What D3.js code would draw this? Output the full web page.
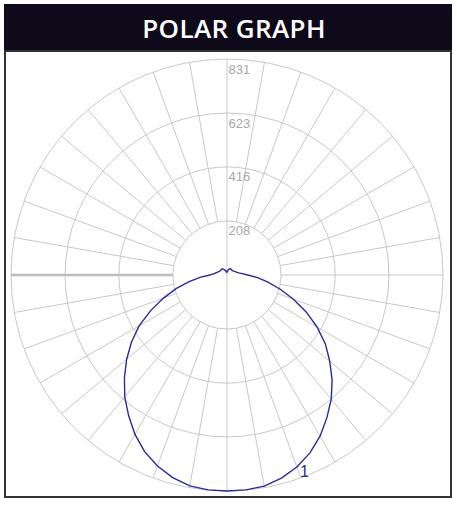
<!DOCTYPE html>
<html>
<head>
<meta charset="utf-8">
<script src="https://cdn.jsdelivr.net/npm/d3@7"></script>
<style>
  body { margin: 0; background: #fff; }
  svg { display: block; }
</style>
</head>
<body>
<svg></svg>
<script>
// intensity values (cd), every 5 degrees from nadir
var angles = d3.range(0, 181, 5);
var rightValues = [831, 830, 825, 809, 786, 755, 716, 670, 624, 572, 516, 462, 400, 336, 272, 212, 160, 118, 80,
    58, 46, 40, 36, 33, 30, 28, 27, 26, 26, 27, 28, 27, 24, 20, 16, 12, 10];
var leftValues = [831, 830, 824, 807, 782, 750, 708, 660, 612, 558, 504, 448, 390, 324, 260, 203, 148, 104, 66,
    52, 44, 40, 36, 33, 31, 30, 30, 31, 30, 28, 25, 22, 19, 15, 12, 10, 10];
var ringTicks = [208, 416, 623, 831];
var maxValue = 831;
var curveLabel = "1";

var W = 457, H = 505;
var cx = 227, cy = 275, R = 216;

const svg = d3.select("svg")
    .attr("width", W)
    .attr("height", H);

// title bar
svg.append("rect")
    .attr("x", 4).attr("y", 4)
    .attr("width", 448).attr("height", 47)
    .attr("fill", "#0f0a1a");

svg.append("text")
    .attr("x", 234).attr("y", 38)
    .attr("text-anchor", "middle")
    .attr("fill", "#fff")
    .style("font-family", "'Open Sans', sans-serif")
    .style("font-weight", 600)
    .style("font-size", "26px")
    .style("letter-spacing", "0.4px")
    .text("POLAR GRAPH");

// panel
svg.append("rect")
    .attr("x", 5).attr("y", 51)
    .attr("width", 446).attr("height", 446)
    .attr("fill", "#fff")
    .attr("stroke", "#333")
    .attr("stroke-width", 2);

const r = d3.scaleLinear().domain([0, maxValue]).range([0, R]);

const g = svg.append("g")
    .attr("transform", `translate(${cx},${cy})`);

// rings
g.selectAll(".ring")
    .data(ringTicks)
    .enter().append("circle")
    .attr("class", "ring")
    .attr("r", d => r(d))
    .attr("fill", "none")
    .attr("stroke", "#c8c8c8")
    .attr("stroke-width", 1);

// spokes every 10 degrees, from the first ring outwards
var spokes = d3.range(0, 360, 10);
g.selectAll(".spoke")
    .data(spokes)
    .enter().append("line")
    .attr("class", "spoke")
    .attr("x1", d => d === 0 || d === 180 ? 0 : r(ringTicks[0]) * Math.sin(d * Math.PI / 180))
    .attr("y1", d => d === 0 || d === 180 ? 0 : -r(ringTicks[0]) * Math.cos(d * Math.PI / 180))
    .attr("x2", d => R * Math.sin(d * Math.PI / 180))
    .attr("y2", d => -R * Math.cos(d * Math.PI / 180))
    .attr("stroke", d => d === 270 ? "#bdbdbd" : "#c8c8c8")
    .attr("stroke-width", d => d === 270 ? 2.5 : 1);

// ring labels
g.selectAll(".ring-label")
    .data(ringTicks)
    .enter().append("text")
    .attr("class", "ring-label")
    .attr("x", 1.5)
    .attr("y", d => -r(d) + 14.5)
    .attr("fill", "#a8a8a8")
    .style("font-family", "'Liberation Sans', Arial, sans-serif")
    .style("font-size", "13px")
    .text(d => d);

// intensity curve, right half then left half
var pts = [];
for (var i = angles.length - 1; i >= 0; i--) {
    pts.push({ a: Math.PI - angles[i] * Math.PI / 180, v: rightValues[i] });
}
for (var j = 0; j < angles.length; j++) {
    pts.push({ a: Math.PI + angles[j] * Math.PI / 180, v: leftValues[j] });
}

const line = d3.lineRadial()
    .angle(d => d.a)
    .radius(d => r(d.v))
    .curve(d3.curveLinear);

g.append("path")
    .datum(pts)
    .attr("d", line)
    .attr("fill", "none")
    .attr("stroke", "#2a2a9c")
    .attr("stroke-width", 1.4);

svg.append("text")
    .attr("x", 300).attr("y", 477)
    .attr("fill", "#2a2a9c")
    .style("font-family", "'Liberation Sans', Arial, sans-serif")
    .style("font-size", "16px")
    .text(curveLabel);
</script>
</body>
</html>
